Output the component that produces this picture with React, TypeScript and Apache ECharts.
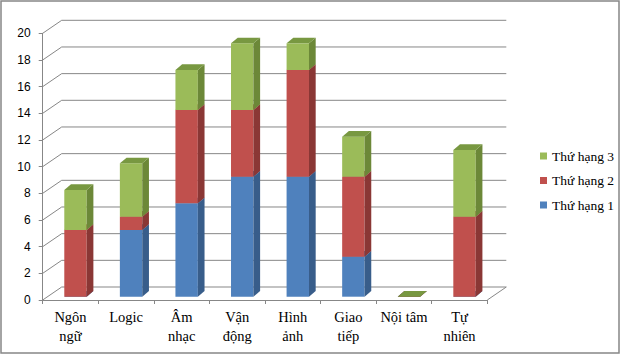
import React, { useEffect, useRef } from "react";
import * as echarts from "echarts";

const categories = ["Ngôn\nngữ", "Logic", "Âm\nnhạc", "Vận\nđộng", "Hình\nảnh", "Giao\ntiếp", "Nội tâm", "Tự\nnhiên"];
const rank1 = [0, 5, 7, 9, 9, 3, 0, 0];
const rank2 = [5, 1, 7, 5, 8, 6, 0, 6];
const rank3 = [3, 4, 3, 5, 2, 3, 0, 5];
const seriesNames = ["Thứ hạng 1", "Thứ hạng 2", "Thứ hạng 3"];
const yTicks = [0, 2, 4, 6, 8, 10, 12, 14, 16, 18, 20];

const faces = [
  { front: "#4F81BD", side: "#385D8A", top: "#4373AA" },
  { front: "#C0504D", side: "#8A3735", top: "#A64542" },
  { front: "#9BBB59", side: "#6C8838", top: "#789841" },
];

const GRID_COLOR = "#878787";
const WALL_DX = 19;
const WALL_DY = -13;
const BAR_DX = 5;
const BAR_DY = -3.3;
const DEPTH_DX = 6.7;
const DEPTH_DY = -5.7;

export default function App() {
  const ref = useRef<HTMLDivElement>(null);
  useEffect(() => {
    if (!ref.current) return;
    const chart = echarts.init(ref.current, undefined, { renderer: "svg" });
    const all = [rank1, rank2, rank3];
    const stacked = all.map((arr, s) =>
      arr.map((v, i) => {
        let base = 0;
        for (let k = 0; k < s; k++) base += all[k][i];
        return [i, base, base + v];
      })
    );

    const barSeries = stacked.map((data, s) => ({
      type: "custom",
      name: seriesNames[s],
      color: faces[s].front,
      itemStyle: { color: faces[s].front },
      z: 5 + s,
      clip: false,
      encode: { x: 0, y: [1, 2] },
      data,
      renderItem: (params: any, api: any) => {
        const idx = api.value(0);
        const base = api.value(1);
        const top = api.value(2);
        const c0 = api.coord([idx, base]);
        const c1 = api.coord([idx, top]);
        const band = api.size([1, 0])[0];
        const w = band * 0.403;
        const L = c0[0] + BAR_DX - w / 2;
        const R = L + w;
        const yb = c0[1] + BAR_DY;
        const yt = c1[1] + BAR_DY;
        const f = faces[s];
        const children: any[] = [];
        if (yb - yt > 0) {
          children.push({
            type: "rect",
            shape: { x: L, y: yt, width: w, height: yb - yt },
            style: { fill: f.front },
          });
          children.push({
            type: "polygon",
            shape: {
              points: [
                [R, yt],
                [R + DEPTH_DX, yt + DEPTH_DY],
                [R + DEPTH_DX, yb + DEPTH_DY],
                [R, yb],
              ],
            },
            style: { fill: f.side },
          });
        }
        children.push({
          type: "polygon",
          shape: {
            points: [
              [L, yt],
              [R, yt],
              [R + DEPTH_DX, yt + DEPTH_DY],
              [L + DEPTH_DX, yt + DEPTH_DY],
            ],
          },
          style: { fill: f.top },
        });
        return { type: "group", children };
      },
    }));

    const wallSeries = {
      type: "custom",
      name: "walls",
      z: 1,
      clip: false,
      silent: true,
      encode: { x: 0, y: 1 },
      data: yTicks.map((t) => [0, t]),
      renderItem: (params: any, api: any) => {
        const cs = params.coordSys;
        const v = api.value(1);
        const y = api.coord([0, v])[1];
        const xl = cs.x;
        const xr = cs.x + cs.width;
        const children: any[] = [
          {
            type: "polyline",
            shape: {
              points: [
                [xl, y],
                [xl + WALL_DX, y + WALL_DY],
                [xr + WALL_DX, y + WALL_DY],
              ],
            },
            style: { stroke: GRID_COLOR, lineWidth: 1, fill: "none" },
          },
        ];
        if (v === 0) {
          children.push({
            type: "line",
            shape: { x1: xr, y1: y, x2: xr + WALL_DX, y2: y + WALL_DY },
            style: { stroke: GRID_COLOR, lineWidth: 1 },
          });
        }
        return { type: "group", children };
      },
    };

    chart.setOption({
      animation: false,
      backgroundColor: "#ffffff",
      grid: { left: 42.7, top: 33.3, width: 444.6, height: 266.7, containLabel: false },
      xAxis: {
        type: "category",
        data: categories,
        axisLine: { show: true, lineStyle: { color: GRID_COLOR, width: 1 } },
        axisTick: { show: true, length: 4, lineStyle: { color: GRID_COLOR } },
        axisLabel: {
          fontFamily: "Liberation Serif",
          fontSize: 14.5,
          color: "#000000",
          lineHeight: 18.5,
          margin: 8,
          interval: 0,
        },
        splitLine: { show: false },
      },
      yAxis: {
        type: "value",
        min: 0,
        max: 20,
        interval: 2,
        axisLine: { show: true, lineStyle: { color: GRID_COLOR, width: 1 } },
        axisTick: { show: true, length: 4, lineStyle: { color: GRID_COLOR } },
        axisLabel: {
          fontFamily: "Liberation Sans",
          fontSize: 12,
          color: "#000000",
          margin: 12,
        },
        splitLine: { show: false },
      },
      legend: {
        orient: "vertical",
        left: 535,
        top: 144,
        itemWidth: 7,
        itemHeight: 7,
        itemGap: 10.5,
        icon: "rect",
        data: ["Thứ hạng 3", "Thứ hạng 2", "Thứ hạng 1"],
        textStyle: { fontFamily: "Liberation Serif", fontSize: 13.5, color: "#000000" },
      },
      graphic: [
        {
          type: "rect",
          shape: { x: 1, y: 1, width: 618, height: 352 },
          style: { fill: "none", stroke: GRID_COLOR, lineWidth: 1.5 },
          silent: true,
        },
      ],
      series: [wallSeries, ...barSeries],
    });
    return () => chart.dispose();
  }, []);
  return (
    <div
      ref={ref}
      style={{ position: "fixed", left: 0, top: 0, width: 621, height: 355 }}
    />
  );
}
